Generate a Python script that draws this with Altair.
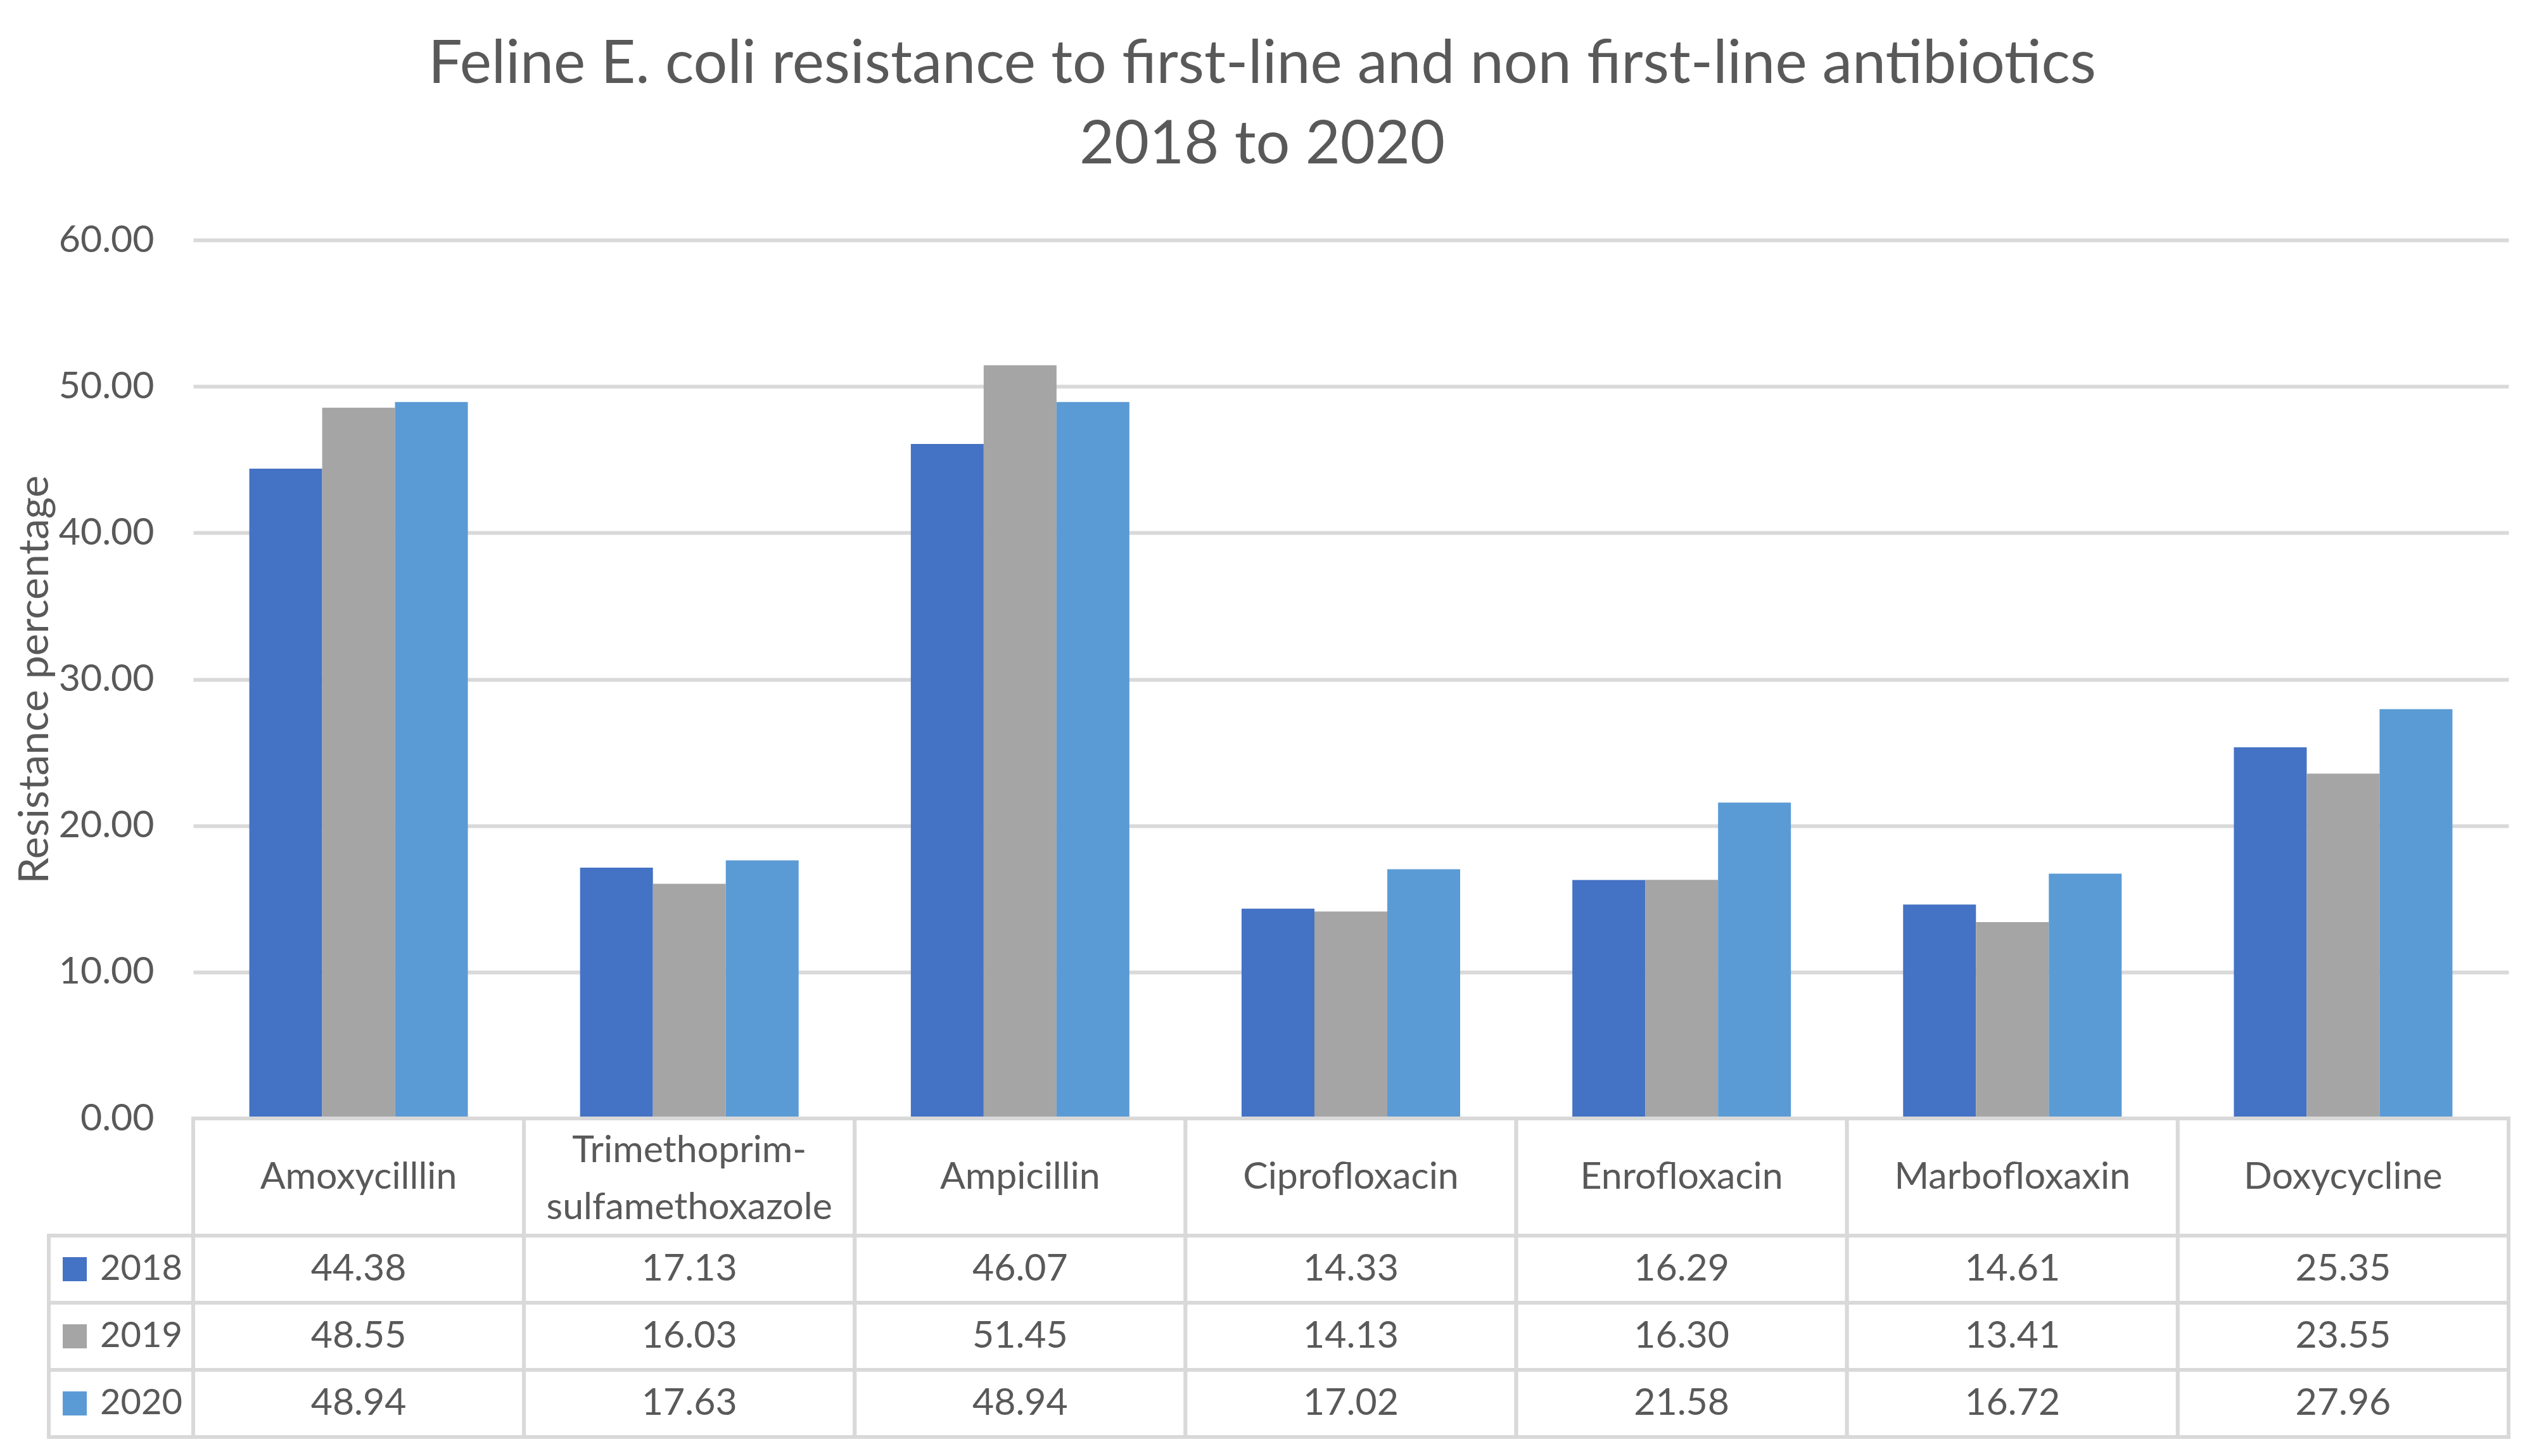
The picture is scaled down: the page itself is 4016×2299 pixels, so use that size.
import altair as alt
import pandas as pd

categories = ["Amoxycilllin", "Trimethoprim-\nsulfamethoxazole", "Ampicillin",
              "Ciprofloxacin", "Enrofloxacin", "Marbofloxaxin", "Doxycycline"]
years = ["2018", "2019", "2020"]
values_2018 = [44.38, 17.13, 46.07, 14.33, 16.29, 14.61, 25.35]
values_2019 = [48.55, 16.03, 51.45, 14.13, 16.30, 13.41, 23.55]
values_2020 = [48.94, 17.63, 48.94, 17.02, 21.58, 16.72, 27.96]
colors = ["#4472C4", "#A5A5A5", "#5B9BD5"]
y_ticks = [0, 10, 20, 30, 40, 50, 60]

series = {"2018": values_2018, "2019": values_2019, "2020": values_2020}
rows = []
for yr in years:
    for cat, v in zip(categories, series[yr]):
        rows.append({"category": cat, "year": yr, "value": v})
df = pd.DataFrame(rows)
header_df = pd.DataFrame({"category": categories})
legend_df = pd.DataFrame({"year": years, "col": ["legend"] * 3})

FONT = "Lato"
TXT = "#595959"
GRID = "#D9D9D9"
W = 3655
H_PLOT = 1387
H_HEAD = 185
H_ROWS = 318
FS = 59

color_scale = alt.Scale(domain=years, range=colors)
x_cat = alt.X("category:N", sort=categories,
              scale=alt.Scale(paddingInner=0, paddingOuter=0), axis=None)

bars = alt.Chart(df).mark_bar().encode(
    x=x_cat,
    xOffset=alt.XOffset("year:N", sort=years,
                        scale=alt.Scale(paddingInner=0, paddingOuter=0.77)),
    y=alt.Y("value:Q", scale=alt.Scale(domain=[0, 60], nice=False),
            axis=alt.Axis(values=y_ticks, format=".2f", title="Resistance percentage",
                          grid=True, gridColor=GRID, gridWidth=6, domain=False,
                          ticks=False, labelPadding=62, labelFontSize=FS,
                          labelColor=TXT, labelFont=FONT, titleFont=FONT,
                          titleFontSize=66, titleFontWeight="normal",
                          titleColor=TXT, titlePadding=16)),
    color=alt.Color("year:N", scale=color_scale, legend=None),
).properties(width=W, height=H_PLOT)

is_multi = "indexof(datum.category, '\\n') >= 0"
head_cells = alt.Chart(header_df).mark_rect(
    fill="white", stroke=GRID, strokeWidth=6
).encode(x=x_cat)
head_text1 = alt.Chart(header_df).transform_filter(
    "!(" + is_multi + ")"
).mark_text(
    font=FONT, fontSize=FS, color=TXT, baseline="middle", align="center"
).encode(x=x_cat, text="category:N")
head_text2 = alt.Chart(header_df).transform_filter(is_multi).mark_text(
    font=FONT, fontSize=FS, color=TXT, lineBreak="\n", lineHeight=90,
    baseline="middle", align="center", dy=-42
).encode(x=x_cat, text="category:N")
header = alt.layer(head_cells, head_text1, head_text2).properties(
    width=W, height=H_HEAD)

y_year = alt.Y("year:N", sort=years,
               scale=alt.Scale(paddingInner=0, paddingOuter=0), axis=None)
cells = alt.Chart(df).mark_rect(fill="white", stroke=GRID, strokeWidth=6).encode(
    x=x_cat, y=y_year)
vals = alt.Chart(df).mark_text(font=FONT, fontSize=FS, color=TXT,
                               baseline="middle", align="center").encode(
    x=x_cat, y=y_year, text=alt.Text("value:Q", format=".2f"))
x_leg = alt.X("col:N", scale=alt.Scale(domain=["legend"], range=[-228, 0],
                                        paddingInner=0, paddingOuter=0), axis=None)
leg_cells = alt.Chart(legend_df).mark_rect(fill="white", stroke=GRID,
                                           strokeWidth=6).encode(x=x_leg, y=y_year)
leg_sq = alt.Chart(legend_df).mark_square(size=1444, opacity=1, filled=True,
                                          xOffset=-73).encode(
    x=x_leg, y=y_year,
    color=alt.Color("year:N", scale=color_scale, legend=None))
leg_txt = alt.Chart(legend_df).mark_text(font=FONT, fontSize=56, color=TXT,
                                         baseline="middle", align="left",
                                         dx=-33).encode(
    x=x_leg, y=y_year, text="year:N")
table = alt.layer(cells, vals, leg_cells, leg_sq, leg_txt).resolve_scale(
    x="independent").properties(width=W, height=H_ROWS)

chart = alt.vconcat(bars, header, table, spacing=0, bounds="flush").properties(
    title=alt.Title(
        ["Feline E. coli resistance to first-line and non first-line antibiotics",
         "2018 to 2020"],
        font=FONT, fontSize=95, fontWeight="normal", color=TXT,
        lineHeight=127, anchor="middle", offset=72),
    padding={"left": 14, "top": 47, "right": 5, "bottom": 5},
    background="white",
).configure_view(stroke=None)

chart.save("out.html", embed_options={"renderer": "svg", "actions": False})
